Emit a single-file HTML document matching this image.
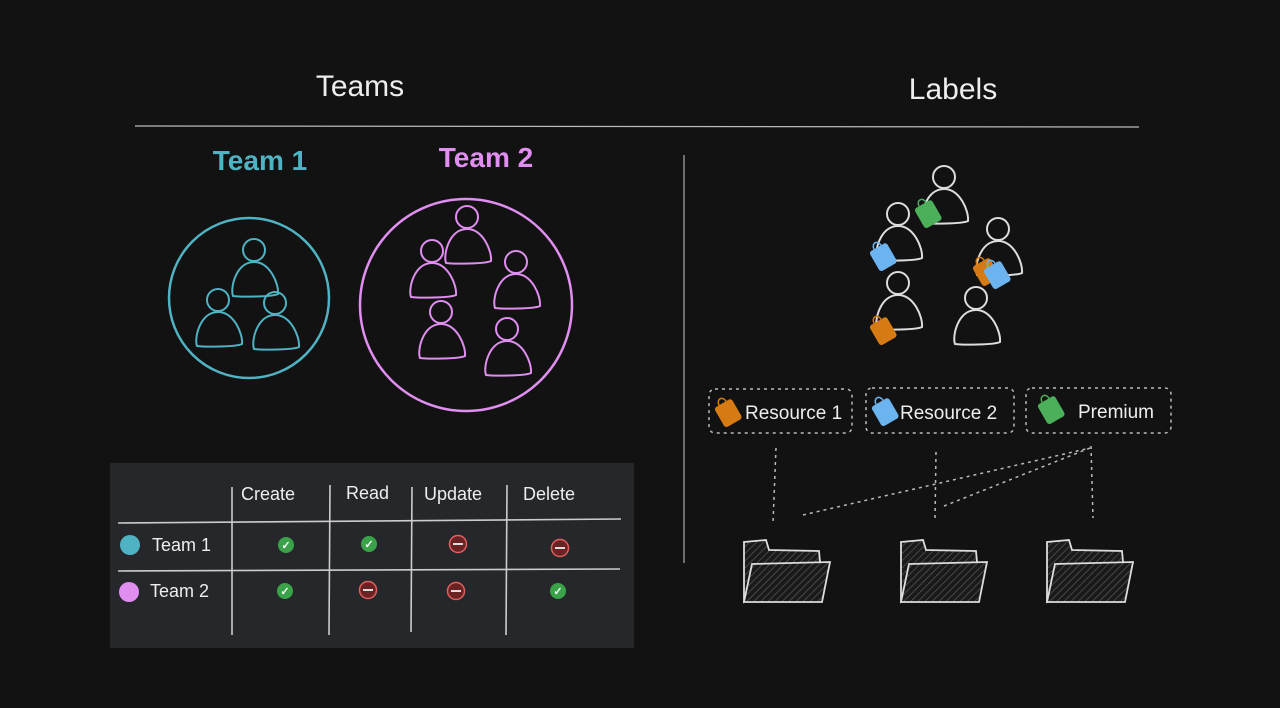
<!DOCTYPE html>
<html><head><meta charset="utf-8"><style>
html,body{margin:0;padding:0;background:#121212;}
svg{display:block}
text{font-family:"Liberation Sans",sans-serif;}
</style></head><body>
<svg width="1280" height="708" viewBox="0 0 1280 708" xmlns="http://www.w3.org/2000/svg">
<defs>
<g id="p"><circle cx="0" cy="0" r="11" fill="none"/><path d="M-21,46 C-24,38 -18,12 0,12 C16,12 25,34 24,44 C18,47 -14,47 -21,46 Z" fill="none"/></g>
<g id="tag"><rect x="-10" y="-9" width="20" height="23" rx="3"/><path d="M-4,-9 a4,5 0 0 1 8,0" fill="none" stroke-width="1.5"/></g>
<pattern id="h" width="5" height="5" patternUnits="userSpaceOnUse" patternTransform="rotate(45)"><rect width="5" height="5" fill="#1a1a1a"/><line x1="0" y1="0" x2="0" y2="5" stroke="#555" stroke-width="1.5"/></pattern>
<g id="f"><path d="M0,2 L22,0 L25,10 L75,11 L76,22 L0,62 Z" fill="url(#h)" stroke="#ddd" stroke-width="1.8"/><path d="M8,24 L86,22 L78,62 L0,62 Z" fill="url(#h)" stroke="#ddd" stroke-width="1.8"/></g>
</defs>
<text x="360" y="96" font-size="30" fill="#eee" text-anchor="middle">Teams</text>
<text x="953" y="99" font-size="30" fill="#eee" text-anchor="middle">Labels</text>
<line x1="135" y1="126" x2="1139" y2="127" stroke="#bbb" stroke-width="1.2"/>
<line x1="684" y1="155" x2="684" y2="563" stroke="#aaa" stroke-width="1.2"/>
<text x="260" y="170" font-size="28" fill="#4fb3c4" text-anchor="middle" font-weight="bold">Team 1</text>
<text x="486" y="167" font-size="28" fill="#e08ef0" text-anchor="middle" font-weight="bold">Team 2</text>
<circle cx="249" cy="298" r="80" fill="none" stroke="#4fb3c4" stroke-width="2.5"/>
<circle cx="466" cy="305" r="106" fill="none" stroke="#e08ef0" stroke-width="2.5"/>
<g stroke="#4fb3c4" stroke-width="2"><use href="#p" x="254" y="250"/><use href="#p" x="218" y="300"/><use href="#p" x="275" y="303"/></g>
<g stroke="#e08ef0" stroke-width="2"><use href="#p" x="467" y="217"/><use href="#p" x="432" y="251"/><use href="#p" x="516" y="262"/><use href="#p" x="441" y="312"/><use href="#p" x="507" y="329"/></g>
<g stroke="#ddd" stroke-width="2"><use href="#p" x="944" y="177"/><use href="#p" x="898" y="214"/><use href="#p" x="998" y="229"/><use href="#p" x="898" y="283"/><use href="#p" x="976" y="298"/></g>
<g stroke-width="0"><use href="#tag" x="927" y="212" fill="#4caf5a" stroke="#4caf5a" transform="rotate(-30 927 212)"/>
<use href="#tag" x="882" y="255" fill="#6cb4f0" stroke="#6cb4f0" transform="rotate(-30 882 255)"/>
<use href="#tag" x="985" y="270" fill="#d67a14" stroke="#d67a14" transform="rotate(-30 985 270)"/>
<use href="#tag" x="996" y="273" fill="#6cb4f0" stroke="#6cb4f0" transform="rotate(-30 996 273)"/>
<use href="#tag" x="882" y="329" fill="#d67a14" stroke="#d67a14" transform="rotate(-30 882 329)"/>
<use href="#tag" x="727" y="411" fill="#d67a14" stroke="#d67a14" transform="rotate(-30 727 411)"/>
<use href="#tag" x="884" y="410" fill="#6cb4f0" stroke="#6cb4f0" transform="rotate(-30 884 410)"/>
<use href="#tag" x="1050" y="408" fill="#4caf5a" stroke="#4caf5a" transform="rotate(-30 1050 408)"/></g>
<g fill="none" stroke="#bbb" stroke-width="1.5" stroke-dasharray="3,4">
<rect x="709" y="389" width="143" height="44" rx="6"/>
<rect x="866" y="388" width="148" height="45" rx="6"/>
<rect x="1026" y="388" width="145" height="45" rx="6"/>
<line x1="776" y1="448" x2="773" y2="523"/>
<line x1="936" y1="452" x2="935" y2="520"/>
<line x1="1091" y1="446" x2="1093" y2="518"/>
<line x1="803" y1="515" x2="1090" y2="448"/>
<line x1="944" y1="506" x2="1090" y2="448"/>
</g>
<text x="745" y="419" font-size="19" fill="#eee">Resource 1</text>
<text x="900" y="419" font-size="19" fill="#eee">Resource 2</text>
<text x="1078" y="418" font-size="19" fill="#eee">Premium</text>
<use href="#f" x="744" y="540"/><use href="#f" x="901" y="540"/><use href="#f" x="1047" y="540"/>
<rect x="110" y="463" width="524" height="185" fill="#25272b"/>
<g stroke="#ccc" stroke-width="1.6">
<line x1="232" y1="487" x2="232" y2="635"/><line x1="330" y1="485" x2="329" y2="635"/><line x1="412" y1="487" x2="411" y2="632"/><line x1="507" y1="485" x2="506" y2="635"/>
<line x1="118" y1="523" x2="621" y2="519"/><line x1="118" y1="571" x2="620" y2="569"/></g>
<g font-size="18" fill="#eee"><text x="241" y="500">Create</text><text x="346" y="499">Read</text><text x="424" y="500">Update</text><text x="523" y="500">Delete</text>
<text x="152" y="551">Team 1</text><text x="150" y="597">Team 2</text></g>
<circle cx="130" cy="545" r="10" fill="#4fb3c4"/><circle cx="129" cy="592" r="10" fill="#e08ef0"/>
<g font-size="11" fill="#fff" text-anchor="middle" font-weight="bold">
<circle cx="286" cy="545" r="8" fill="#3aa34a"/><text x="286" y="549">✓</text>
<circle cx="369" cy="544" r="8" fill="#3aa34a"/><text x="369" y="548">✓</text>
<circle cx="285" cy="591" r="8" fill="#3aa34a"/><text x="285" y="595">✓</text>
<circle cx="558" cy="591" r="8" fill="#3aa34a"/><text x="558" y="595">✓</text></g>
<g stroke="#e06060" stroke-width="1.5" fill="#6b2222">
<circle cx="458" cy="544" r="8.5"/><circle cx="560" cy="548" r="8.5"/><circle cx="368" cy="590" r="8.5"/><circle cx="456" cy="591" r="8.5"/></g>
<g stroke="#ddd" stroke-width="2"><line x1="453" y1="544" x2="463" y2="544"/><line x1="555" y1="548" x2="565" y2="548"/><line x1="363" y1="590" x2="373" y2="590"/><line x1="451" y1="591" x2="461" y2="591"/></g>
</svg>
</body></html>
